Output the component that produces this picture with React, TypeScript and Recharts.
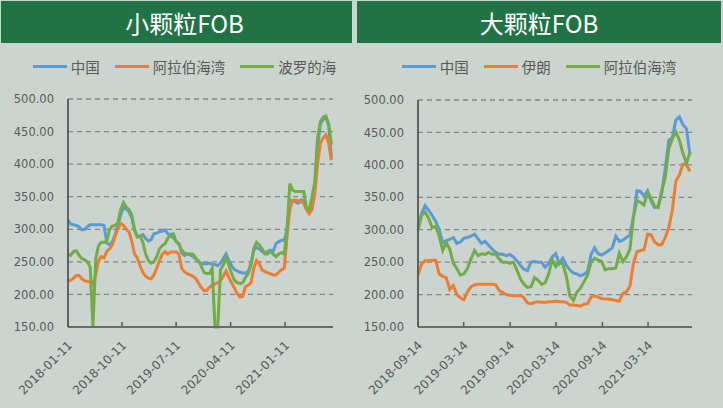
import React from 'react';
import { LineChart, Line, XAxis, YAxis, CartesianGrid } from 'recharts';

// weekly-ish samples, one value every 14 days from the start date
const STEP_DAYS = 14;
const yTicks = [150, 200, 250, 300, 350, 400, 450, 500];

// 小颗粒FOB
const smallStart = '2018-01-11';
const smallEnd = '2021-09-10';
const smallTicks = ['2018-01-11', '2018-10-11', '2019-07-11', '2020-04-11', '2021-01-11'];
const smallChina = [
  314, 308, 307, 306, 304, 299, 300, 304, 307, 307, 307, 307, 307, 306, 279, 276,
  281, 292, 306, 322, 334, 331, 327, 318, 300, 289, 289, 292, 286, 282, 284, 293,
  294, 296, 297, 299, 293, 290, 287, 282, 278, 264, 260, 262, 261, 258, 255, 251,
  248, 247, 247, 248, 246, 246, 244, 248, 255, 262, 252, 244, 238, 236, 234, 233,
  233, 235, 248, 268, 272, 270, 266, 264, 266, 268, 266, 278, 281, 283, 283, 300,
  345, 344, 342, 340, 345, 344, 332, 328, 340, 365, 424, 462, 468, 472, 460, 410,
];
const smallArab = [
  221, 222, 225, 229, 229, 224, 221, 220, 219, 216, 230, 252, 258, 256, 266, 270,
  276, 290, 300, 309, 306, 300, 296, 282, 262, 256, 244, 234, 228, 225, 224, 230,
  240, 252, 262, 266, 262, 265, 265, 265, 262, 240, 235, 232, 230, 228, 225, 218,
  211, 206, 206, 211, 214, 216, 218, 221, 228, 236, 226, 218, 210, 201, 196, 197,
  212, 214, 218, 240, 252, 247, 238, 235, 233, 232, 230, 230, 234, 238, 240, 290,
  330, 344, 345, 344, 342, 340, 330, 324, 330, 355, 400, 432, 440, 445, 432, 406,
];
const smallBaltic = [
  262, 260, 266, 267, 260, 255, 253, 250, 242, 150, 255, 275, 280, 280, 282, 300,
  305, 306, 310, 330, 341, 334, 330, 322, 298, 288, 290, 280, 262, 252, 248, 250,
  258, 270, 275, 278, 286, 292, 293, 281, 277, 268, 264, 262, 262, 262, 256, 252,
  244, 234, 232, 232, 240, 150, 150, 238, 245, 257, 245, 232, 222, 218, 217, 218,
  226, 232, 245, 270, 280, 276, 270, 262, 262, 266, 262, 258, 262, 264, 262, 300,
  370, 360, 358, 358, 358, 358, 333, 330, 350, 372, 440, 465, 472, 474, 462, 430,
];

// 大颗粒FOB
const largeStart = '2018-09-14';
const largeEnd = '2021-09-04';
const largeTicks = ['2018-09-14', '2019-03-14', '2019-09-14', '2020-03-14', '2020-09-14', '2021-03-14'];
const largeChina = [
  304, 325, 337, 330, 322, 313, 300, 280, 283, 285, 288, 279, 281, 287, 288, 290,
  293, 286, 279, 282, 276, 270, 265, 262, 262, 260, 262, 258, 252, 245, 239, 237,
  250, 251, 250, 250, 242, 248, 258, 263, 248, 256, 245, 238, 233, 232, 229, 231,
  236, 262, 272, 263, 261, 264, 268, 272, 290, 282, 284, 288, 292, 320, 360, 359,
  352, 360, 344, 334, 336, 356, 395, 438, 442, 469, 474, 462, 456, 415,
];
const largeIran = [
  230, 247, 252, 252, 253, 253, 232, 228, 226, 208, 214, 200, 195, 192, 204, 212,
  215, 216, 216, 216, 216, 216, 215, 206, 203, 200, 199, 198, 198, 199, 195, 187,
  186, 188, 189, 188, 188, 189, 189, 190, 189, 189, 188, 184, 184, 183, 182, 185,
  186, 196, 198, 196, 194, 193, 193, 192, 191, 190, 202, 204, 213, 248, 266, 268,
  269, 293, 292, 281, 277, 277, 288, 303, 330, 375, 384, 401, 400, 390,
];
const largeArab = [
  298, 322, 327, 318, 303, 305, 290, 268, 280, 270, 248, 240, 230, 232, 240, 255,
  268, 260, 263, 262, 265, 262, 262, 255, 250, 250, 248, 250, 238, 224, 216, 211,
  212, 226, 222, 216, 218, 232, 254, 243, 250, 247, 228, 198, 191, 204, 210, 220,
  230, 250, 256, 253, 251, 238, 240, 240, 241, 264, 251, 258, 270, 320, 345, 342,
  338, 358, 348, 336, 334, 360, 380, 425, 440, 451, 438, 418, 402, 420,
];

const BLUE = '#5B9BD5';
const ORANGE = '#ED7D31';
const GREEN = '#70AD47';
const TEXT = '#595959';

const dayOf = (start: string, d: string) => Math.round((Date.parse(d) - Date.parse(start)) / 86400000);

const DateTick = (props: any) => {
  const { x, axisY, label } = props;
  return (
    <g>
      <line x1={x} x2={x} y1={axisY - 5} y2={axisY} stroke={TEXT} strokeWidth={1.5} />
      <text
        x={0}
        y={0}
        transform={`translate(${x + 5},${axisY + 19}) rotate(-45)`}
        textAnchor="end"
        fill={TEXT}
        fontSize={12}
        fontFamily="DejaVu Sans"
      >
        {label}
      </text>
    </g>
  );
};

type Series = { name: string; color: string; values: number[] };

const Panel = ({ title, series, start, end, ticks, left, width, margin }: any) => {
  const height = 408;
  const rows = series[0].values.map((_: number, i: number) => {
    const row: any = { day: i * STEP_DAYS };
    series.forEach((s: Series, k: number) => { row['s' + k] = s.values[i]; });
    return row;
  });
  const tickDays = ticks.map((t: string) => dayOf(start, t));
  const axisY = height - margin.bottom - 30;
  const plotLeft = margin.left + 60;
  const plotRight = width - margin.right;
  const center = (plotLeft + plotRight) / 2 - 16;
  return (
    <div style={{ position: 'absolute', left, top: 0, width, height }}>
      <div style={{ position: 'absolute', left: 1, top: 1, width: width - 3, height: 42, background: '#217346' }} />
      <div style={{
        position: 'absolute', left: center - 150, width: 300, top: 1, height: 42, textAlign: 'center',
        color: '#fff', fontFamily: '"Noto Sans CJK SC"', fontSize: 24, lineHeight: '44px',
      }}>
        {title}
      </div>
      <div style={{
        position: 'absolute', left: center - 170, width: 340, top: 56, height: 20,
        display: 'flex', justifyContent: 'center', alignItems: 'center', gap: 15,
        fontFamily: '"Noto Sans CJK SC"', fontSize: 14.5, color: TEXT,
      }}>
        {series.map((s: Series) => (
          <div key={s.name} style={{ display: 'flex', alignItems: 'center', gap: 4 }}>
            <div style={{ width: 34, height: 3, background: s.color }} />
            <span>{s.name}</span>
          </div>
        ))}
      </div>
      <div style={{ position: 'absolute', left: 0, top: 0 }}>
        <LineChart width={width} height={height} data={rows} margin={margin}>
          <CartesianGrid horizontal vertical={false} stroke="#858585" strokeDasharray="5 4" strokeWidth={1.3} />
          <XAxis
            dataKey="day"
            type="number"
            domain={[0, dayOf(start, end)]}
            ticks={tickDays}
            interval={0}
            height={30}
            tickLine={false}
            axisLine={{ stroke: '#6a6a6a', strokeWidth: 2.2 }}
            tick={(p: any) => (
              <DateTick key={p.payload.value} x={p.x} axisY={axisY} label={ticks[tickDays.indexOf(p.payload.value)]} />
            )}
          />
          <YAxis
            type="number"
            domain={[150, 500]}
            ticks={yTicks}
            interval={0}
            width={60}
            tickLine={false}
            tickMargin={8}
            axisLine={{ stroke: '#555', strokeWidth: 1.8 }}
            tick={{ fill: TEXT, fontSize: 11.5, fontFamily: 'DejaVu Sans' }}
            tickFormatter={(v: number) => v.toFixed(2)}
          />
          {series.map((s: Series, k: number) => (
            <Line
              key={s.name}
              type="linear"
              dataKey={'s' + k}
              stroke={s.color}
              strokeWidth={3}
              dot={false}
              isAnimationActive={false}
            />
          ))}
        </LineChart>
      </div>
    </div>
  );
};

export default function App() {
  return (
    <div style={{ position: 'absolute', left: 0, top: 0, width: 723, height: 408, background: '#CCD4CF', overflow: 'hidden' }}>
      <Panel
        title="小颗粒FOB"
        series={[
          { name: '中国', color: BLUE, values: smallChina },
          { name: '阿拉伯海湾', color: ORANGE, values: smallArab },
          { name: '波罗的海', color: GREEN, values: smallBaltic },
        ]}
        start={smallStart}
        end={smallEnd}
        ticks={smallTicks}
        left={0}
        width={354}
        margin={{ top: 99, right: 21, bottom: 51, left: 8 }}
      />
      <Panel
        title="大颗粒FOB"
        series={[
          { name: '中国', color: BLUE, values: largeChina },
          { name: '伊朗', color: ORANGE, values: largeIran },
          { name: '阿拉伯海湾', color: GREEN, values: largeArab },
        ]}
        start={largeStart}
        end={largeEnd}
        ticks={largeTicks}
        left={356}
        width={367}
        margin={{ top: 100, right: 31, bottom: 51, left: 2 }}
      />
    </div>
  );
}
